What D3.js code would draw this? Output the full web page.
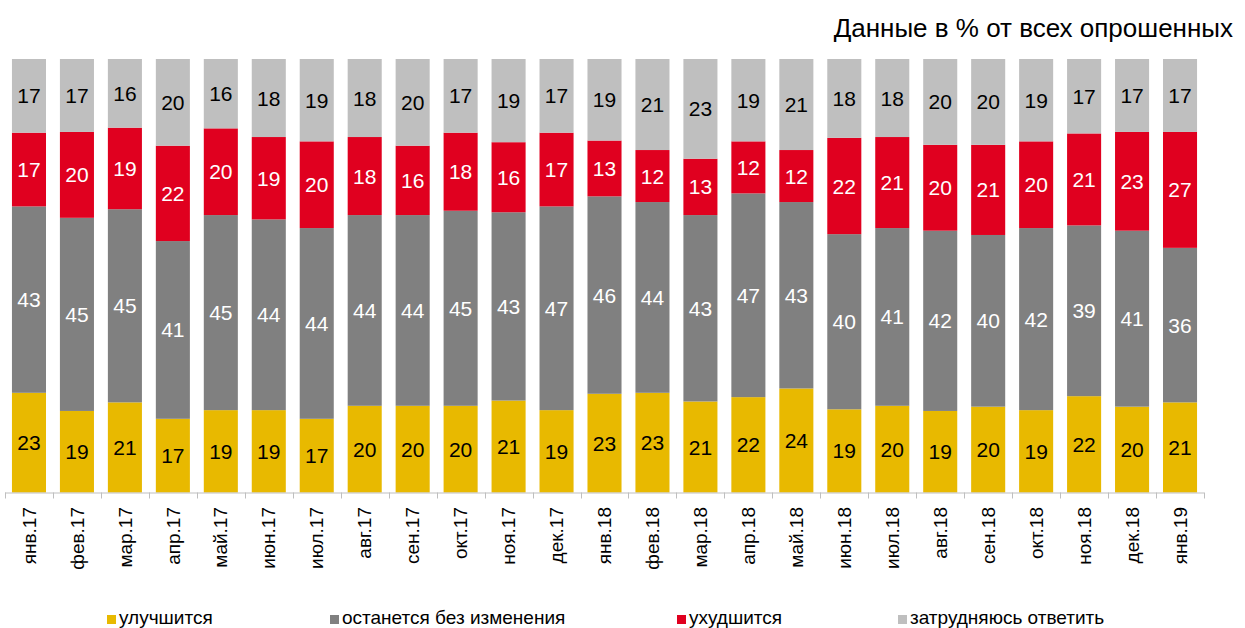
<!DOCTYPE html>
<html>
<head>
<meta charset="utf-8">
<script src="https://cdn.jsdelivr.net/npm/d3@7"></script>
<style>
  body { margin: 0; background: #fff; }
  svg { display: block; font-family: "Liberation Sans", Arial, sans-serif; }
</style>
</head>
<body>
<div id="chart"></div>
<script>
// months (x categories)
const months = ["янв.17", "фев.17", "мар.17", "апр.17", "май.17", "июн.17", "июл.17", "авг.17",
    "сен.17", "окт.17", "ноя.17", "дек.17", "янв.18", "фев.18", "мар.18", "апр.18", "май.18",
    "июн.18", "июл.18", "авг.18", "сен.18", "окт.18", "ноя.18", "дек.18", "янв.19"];

// series values, bottom to top
const better = [23, 19, 21, 17, 19, 19, 17, 20, 20, 20, 21, 19, 23, 23, 21, 22, 24, 19, 20, 19, 20, 19, 22, 20, 21];
const same   = [43, 45, 45, 41, 45, 44, 44, 44, 44, 45, 43, 47, 46, 44, 43, 47, 43, 40, 41, 42, 40, 42, 39, 41, 36];
const worse  = [17, 20, 19, 22, 20, 19, 20, 18, 16, 18, 16, 17, 13, 12, 13, 12, 12, 22, 21, 20, 21, 20, 21, 23, 27];
const unsure = [17, 17, 16, 20, 16, 18, 19, 18, 20, 17, 19, 17, 19, 21, 23, 19, 21, 18, 18, 20, 20, 19, 17, 17, 17];

const seriesNames = ["улучшится", "останется без изменения", "ухудшится", "затрудняюсь ответить"];
const colors = ["#e8b900", "#808080", "#e0001f", "#bfbfbf"];
const labelColors = ["#000", "#fff", "#fff", "#000"];

const width = 1245, height = 628;

const svg = d3.select("#chart").append("svg")
    .attr("width", width)
    .attr("height", height);

// build table for d3.stack
const table = months.map((m, i) => ({
    month: m,
    s0: better[i], s1: same[i], s2: worse[i], s3: unsure[i]
}));
const keys = ["s0", "s1", "s2", "s3"];

const stacked = d3.stack()
    .keys(keys)
    .offset(d3.stackOffsetExpand)(table);

const x = d3.scaleBand()
    .domain(months)
    .range([5, 1204])
    .paddingInner(0.29)
    .paddingOuter(0.145);

const y = d3.scaleLinear()
    .domain([0, 1])
    .range([492.5, 59]);

const layers = svg.selectAll(".layer")
    .data(stacked)
    .join("g")
    .attr("class", "layer")
    .attr("fill", (d, i) => colors[i]);

layers.selectAll("rect")
    .data(d => d)
    .join("rect")
    .attr("x", d => x(d.data.month))
    .attr("width", x.bandwidth())
    .attr("y", d => y(d[1]))
    .attr("height", d => y(d[0]) - y(d[1]));

// value labels
stacked.forEach((layer, li) => {
    svg.append("g")
        .selectAll("text")
        .data(layer)
        .join("text")
        .attr("x", d => x(d.data.month) + x.bandwidth() / 2)
        .attr("y", d => (y(d[0]) + y(d[1])) / 2)
        .attr("dy", "0.36em")
        .attr("text-anchor", "middle")
        .attr("font-size", 21)
        .attr("fill", labelColors[li])
        .text(d => d.data[layer.key]);
});

// x axis: line and ticks between categories
const axisG = svg.append("g");
const step = x.step();
const x0 = x.range()[0];
axisG.append("line")
    .attr("x1", x0).attr("x2", x.range()[1])
    .attr("y1", y(0) + 0.5).attr("y2", y(0) + 0.5)
    .attr("stroke", "#bfbfbf");
axisG.selectAll(".tick")
    .data(d3.range(months.length + 1))
    .join("line")
    .attr("x1", i => Math.round(x0 + i * step) + 0.5)
    .attr("x2", i => Math.round(x0 + i * step) + 0.5)
    .attr("y1", y(0))
    .attr("y2", y(0) + 6)
    .attr("stroke", "#bfbfbf");

axisG.selectAll(".lbl")
    .data(months)
    .join("text")
    .attr("transform", d => `translate(${x(d) + x.bandwidth() / 2},507) rotate(-90)`)
    .attr("dy", "0.35em")
    .attr("text-anchor", "end")
    .attr("font-size", 19)
    .attr("fill", "#000")
    .text(d => d);

// title
svg.append("text")
    .attr("x", 1233)
    .attr("y", 37)
    .attr("text-anchor", "end")
    .attr("font-size", 26)
    .attr("fill", "#000")
    .text("Данные в % от всех опрошенных");

// legend
const legendX = [107, 330, 677, 898];
const legend = svg.append("g")
    .selectAll("g")
    .data(seriesNames)
    .join("g")
    .attr("transform", (d, i) => `translate(${legendX[i]},624)`);
legend.append("rect")
    .attr("x", 0).attr("y", -9)
    .attr("width", 9).attr("height", 9)
    .attr("fill", (d, i) => colors[i]);
legend.append("text")
    .attr("x", 12)
    .attr("y", 0)
    .attr("font-size", 19)
    .attr("fill", "#000")
    .text(d => d);
</script>
</body>
</html>
